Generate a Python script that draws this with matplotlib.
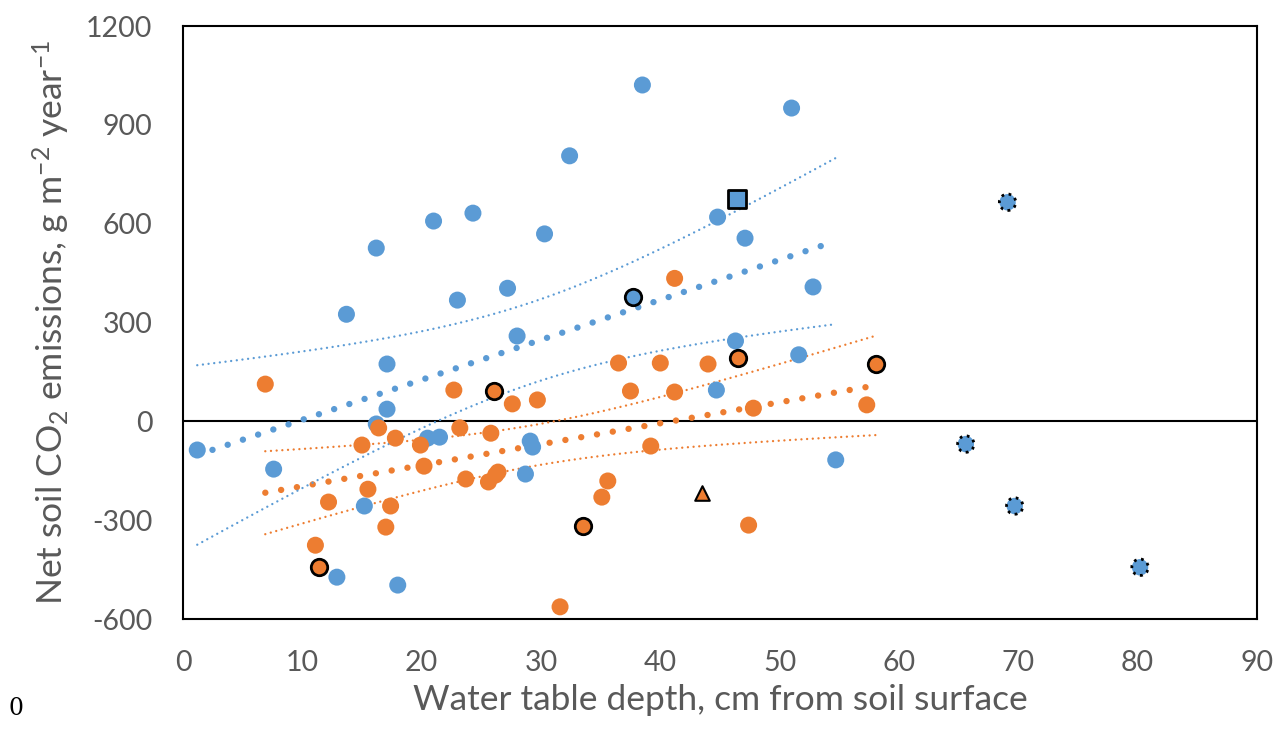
import numpy as np
import matplotlib
matplotlib.use("Agg")
import matplotlib.pyplot as plt

plt.rcParams["axes.unicode_minus"] = False
plt.rcParams["mathtext.fontset"] = "custom"
plt.rcParams["mathtext.rm"] = "Lato"
plt.rcParams["mathtext.it"] = "Lato:italic"

# blue series (plain markers)
blue_x = [1.2, 7.6, 13.7, 16.2, 16.2, 17.1, 17.1, 15.2, 12.9, 18.0, 21.0, 20.5, 21.5,
          23.0, 24.3, 27.2, 28.0, 30.3, 32.4, 38.5, 29.1, 29.3, 28.7, 44.8, 47.1,
          46.3, 44.7, 51.0, 52.8, 51.6, 54.7]
blue_y = [-87, -145, 325, 526, -8, 174, 37, -257, -473, -497, 608, -51, -48,
          368, 632, 404, 259, 569, 806, 1021, -60, -78, -160, 620, 556,
          244, 95, 951, 408, 202, -117]
# blue highlighted points
blue_ring_x = [37.7]
blue_ring_y = [377]
blue_sq_x = [46.4]
blue_sq_y = [675]
blue_dot_x = [69.1, 65.6, 69.7, 80.2]
blue_dot_y = [665, -69, -257, -443]

# orange series
orange_x = [6.9, 11.1, 12.2, 15.0, 15.5, 16.4, 17.0, 17.4, 17.8, 19.9, 20.2, 22.7,
            23.2, 23.7, 25.6, 25.8, 26.2, 26.4, 27.6, 29.7, 31.6, 35.1, 35.6, 36.5,
            37.5, 39.2, 40.0, 41.2, 41.2, 44.0, 47.4, 47.8, 57.3]
orange_y = [113, -376, -245, -72, -206, -20, -321, -257, -51, -72, -136, 95,
            -20, -175, -184, -36, -163, -154, 53, 65, -563, -230, -181, 177,
            92, -75, 177, 434, 89, 174, -315, 40, 50]
orange_ring_x = [11.4, 26.1, 33.5, 46.5, 58.1]
orange_ring_y = [-443, 92, -318, 192, 174]
orange_tri_x = [43.5]
orange_tri_y = [-219]

BLUE = "#5B9BD5"
ORANGE = "#ED7D31"
GREY = "#595959"


def fit_with_ci(x, y, xs):
    x = np.asarray(x, float)
    y = np.asarray(y, float)
    b, a = np.polyfit(x, y, 1)
    n = len(x)
    resid = y - (a + b * x)
    s = np.sqrt(np.sum(resid ** 2) / (n - 2))
    sxx = np.sum((x - x.mean()) ** 2)
    half = 2.03 * s * np.sqrt(1.0 / n + (xs - x.mean()) ** 2 / sxx)
    fit = a + b * xs
    return fit, fit - half, fit + half


fig = plt.figure(figsize=(12.82, 7.31), dpi=100)
ax = fig.add_axes([0.1427, 0.1532, 0.9805 - 0.1427, 0.9644 - 0.1532])

# trend lines + confidence bands
bx_all = blue_x + blue_ring_x + blue_sq_x
by_all = blue_y + blue_ring_y + blue_sq_y
xs_b = np.linspace(min(bx_all), max(bx_all), 100)
fb, lb, ub = fit_with_ci(bx_all, by_all, xs_b)

ox_all = orange_x + orange_ring_x + orange_tri_x
oy_all = orange_y + orange_ring_y + orange_tri_y
xs_o = np.linspace(min(ox_all), max(ox_all), 100)
fo, lo, uo = fit_with_ci(ox_all, oy_all, xs_o)
xs_ot = np.linspace(min(orange_x), max(orange_x), 100)
fot = np.polyval(np.polyfit(ox_all, oy_all, 1), xs_ot)

big_dots = (0, (0.01, 2.5))
small_dots = (0, (0.01, 2.4))
ax.plot(xs_b, fb, color=BLUE, lw=4.6, ls=big_dots, dash_capstyle="round", zorder=2)
ax.plot(xs_ot, fot, color=ORANGE, lw=4.6, ls=big_dots, dash_capstyle="round", zorder=2)
for c, xs, lo_, hi_ in [(BLUE, xs_b, lb, ub), (ORANGE, xs_o, lo, uo)]:
    ax.plot(xs, lo_, color=c, lw=1.7, ls=small_dots, dash_capstyle="round", zorder=2)
    ax.plot(xs, hi_, color=c, lw=1.7, ls=small_dots, dash_capstyle="round", zorder=2)

ax.axhline(0, color="black", lw=1.5, zorder=1)

ms = 150
ax.scatter(blue_x, blue_y, s=ms, color=BLUE, edgecolors="none", zorder=3)
ax.scatter(orange_x, orange_y, s=ms, color=ORANGE, edgecolors="none", zorder=3)
ax.scatter(blue_ring_x, blue_ring_y, s=140, color=BLUE, edgecolors="black", linewidths=2, zorder=4)
ax.scatter(orange_ring_x, orange_ring_y, s=140, color=ORANGE, edgecolors="black", linewidths=2, zorder=4)
ax.scatter(blue_sq_x, blue_sq_y, s=150, marker="s", color=BLUE, edgecolors="black", linewidths=2, zorder=4)
ax.scatter(orange_tri_x, orange_tri_y, s=110, marker="^", color=ORANGE, edgecolors="black", linewidths=1.5, zorder=4)
ax.scatter(blue_dot_x, blue_dot_y, s=140, color=BLUE, edgecolors="black", linewidths=2,
           linestyles=":", zorder=4)

ax.set_xlim(0, 90)
ax.set_ylim(-600, 1200)
ax.set_xticks(range(0, 91, 10))
ax.set_yticks(range(-600, 1201, 300))
ax.tick_params(length=0, labelsize=20.5, labelcolor=GREY, pad=22)
for lab in ax.get_xticklabels() + ax.get_yticklabels():
    lab.set_family("Lato")
for sp in ax.spines.values():
    sp.set_linewidth(1.5)

ax.set_xlabel("Water table depth, cm from soil surface", fontsize=25.5, color=GREY,
              family="Lato", labelpad=6)
ax.set_ylabel("Net soil CO$_2$ emissions, g m$^{-2}$ year$^{-1}$", fontsize=25.5,
              color=GREY, family="Lato", labelpad=10)

fig.text(0.007, 0.022, "0", family="DejaVu Serif", fontsize=17, color="black")

fig.savefig("out.png", dpi=100)
